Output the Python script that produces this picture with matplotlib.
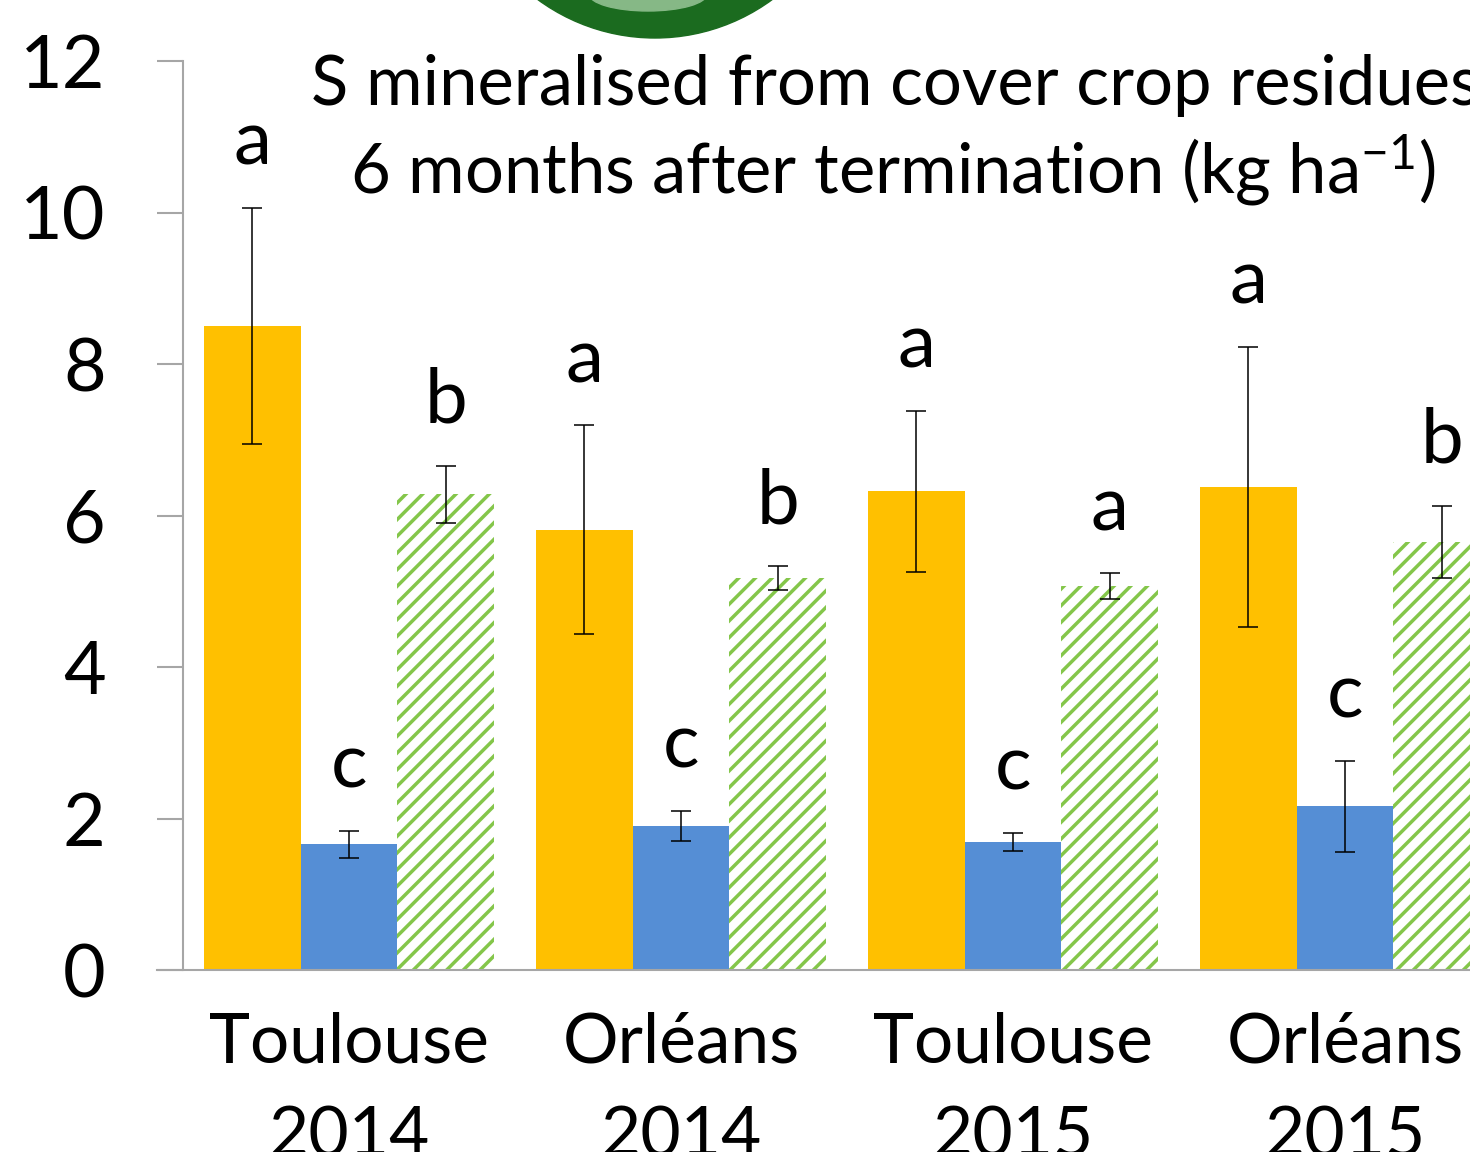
import numpy as np
import matplotlib
matplotlib.use('Agg')
import matplotlib.pyplot as plt
from matplotlib.patches import Circle, Ellipse

# values (kg S / ha)
sites = ['Toulouse\n2014', 'Orléans\n2014', 'Toulouse\n2015', 'Orléans\n2015']
orange_vals = [8.50, 5.81, 6.32, 6.38]
orange_err = [1.56, 1.38, 1.06, 1.85]
blue_vals = [1.66, 1.90, 1.69, 2.16]
blue_err = [0.18, 0.20, 0.12, 0.60]
green_vals = [6.28, 5.17, 5.07, 5.65]
green_err = [0.38, 0.16, 0.17, 0.48]
orange_letters = ['a', 'a', 'a', 'a']
blue_letters = ['c', 'c', 'c', 'c']
green_letters = ['b', 'b', 'a', 'b']
yticks = [0, 2, 4, 6, 8, 10, 12]

plt.rcParams['font.family'] = ['Lato', 'DejaVu Sans']
plt.rcParams['mathtext.fontset'] = 'custom'
plt.rcParams['mathtext.rm'] = 'Lato'
plt.rcParams['mathtext.default'] = 'regular'
plt.rcParams['hatch.linewidth'] = 2.5

fig = plt.figure(figsize=(14.7, 11.52), dpi=100)
# axes runs past the right edge of the figure, like the cropped original
ax = fig.add_axes([183 / 1470, 182 / 1152, 1328 / 1470, 909 / 1152])

x = np.arange(len(sites))
w = 0.292
err_kw = dict(ecolor='black', elinewidth=1.1, capsize=7, capthick=1.1)

ax.bar(x - w, orange_vals, w, yerr=orange_err, color='#FFC000', error_kw=err_kw)
ax.bar(x, blue_vals, w, yerr=blue_err, color='#558ED5', error_kw=err_kw)
ax.bar(x + w, green_vals, w, yerr=green_err, color='white', edgecolor='#84C64A',
       linewidth=0, hatch='//', error_kw=err_kw)

# significance letters above the error bars
for offs, vals, errs, letters in [(-w, orange_vals, orange_err, orange_letters),
                                  (0, blue_vals, blue_err, blue_letters),
                                  (w, green_vals, green_err, green_letters)]:
    for i in range(len(sites)):
        ax.annotate(letters[i], (x[i] + offs, vals[i] + errs[i]), xytext=(0, 31),
                    textcoords='offset points', ha='center', va='baseline', fontsize=55)

ax.set_xlim(-0.5, 3.5)
ax.set_ylim(0, 12)
ax.set_yticks(yticks)
ax.set_xticks(x)
# second line runs off the bottom edge, as in the original
ax.set_xticklabels(sites, fontsize=50, linespacing=1.6)
ax.tick_params(axis='y', labelsize=53, length=18.7, width=1.5, color='#A6A6A6', pad=37)
ax.tick_params(axis='x', length=0, pad=30)

for s in ['top', 'right']:
    ax.spines[s].set_visible(False)
for s in ['left', 'bottom']:
    ax.spines[s].set_color('#A6A6A6')
    ax.spines[s].set_linewidth(1.5)
ax.spines['bottom'].set_bounds(-0.5 - 26 / 332, 3.5)

# title (two lines, centred over the plot area)
fig.text(895 / 1470, 1 - 105 / 1152, 'S mineralised from cover crop residues',
         ha='center', va='baseline', fontsize=49.5)
fig.text(893 / 1470, 1 - 193 / 1152, '6 months after termination (kg ha$^{-1}$)',
         ha='center', va='baseline', fontsize=49.5)

# green logo cut off at the top of the picture
fig.add_artist(Circle((655, 1152 + 160), 198, transform=None, color='#1B6B1F', zorder=5))
fig.add_artist(Ellipse((648, 1152 + 6), 118, 34, transform=None, color='#86B886', zorder=6))

fig.savefig('out.png', dpi=100)
